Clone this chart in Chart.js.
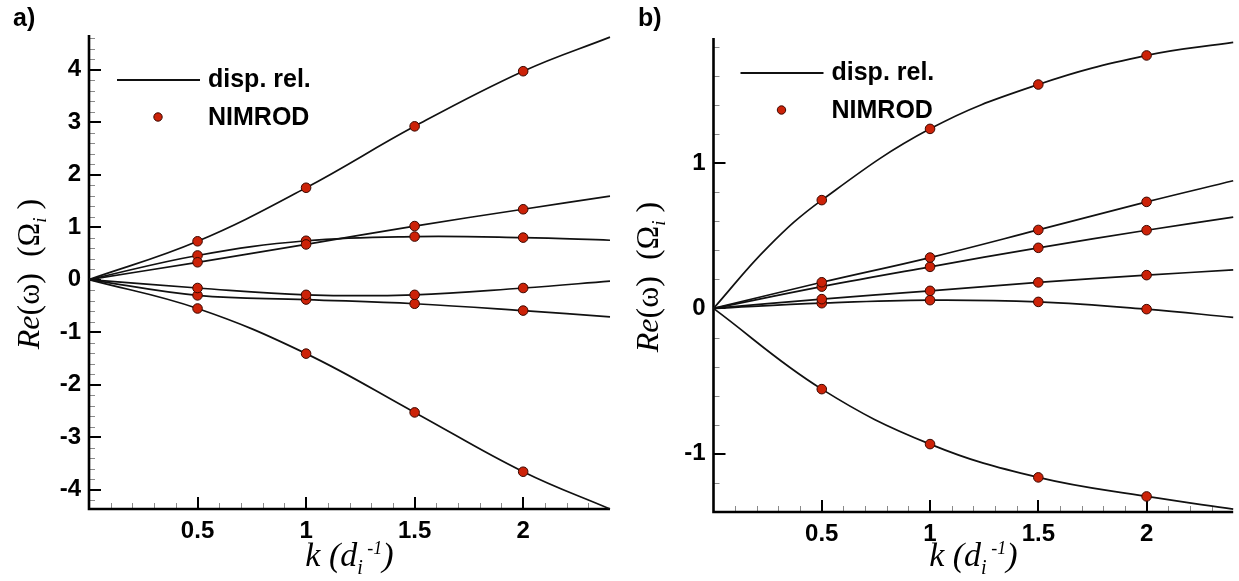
<!DOCTYPE html>
<html>
<head>
<meta charset="utf-8">
<script src="https://cdn.jsdelivr.net/npm/chart.js@4.4.1/dist/chart.umd.min.js"></script>
<style>
  body { margin: 0; background: #fff; }
  #wrap { position: relative; width: 1239px; height: 581px; overflow: hidden; }
  canvas { position: absolute; top: 0; }
</style>
</head>
<body>
<div id="wrap">
  <canvas id="panelA" width="620" height="581" style="left:0"></canvas>
  <canvas id="panelB" width="619" height="581" style="left:620px"></canvas>
</div>
<script>
// wavenumbers where the dispersion curves are sampled, and NIMROD runs
const kCurve = [0, 0.5, 1, 1.5, 2, 2.4];
const kCurveFine = [0, 0.25, 0.5, 1, 1.5, 2, 2.4];
const kRuns = [0.5, 1, 1.5, 2];

// panel a) dispersion relation branches, Re(omega) in units of Omega_i
const dispA1 = [0, 0.73, 1.75, 2.92, 3.97, 4.62];
const dispA2 = [0, 0.33, 0.67, 1.02, 1.34, 1.59];
const dispA3 = [0, 0.46, 0.74, 0.82, 0.80, 0.75];
const dispA4 = [0, -0.16, -0.29, -0.29, -0.16, -0.03];
const dispA5 = [0, -0.30, -0.38, -0.46, -0.59, -0.71];
const dispA6 = [0, -0.55, -1.41, -2.53, -3.66, -4.37];

// panel a) NIMROD results
const nimA1 = [0.73, 1.75, 2.92, 3.97];
const nimA2 = [0.33, 0.67, 1.02, 1.34];
const nimA3 = [0.46, 0.74, 0.82, 0.80];
const nimA4 = [-0.16, -0.29, -0.29, -0.16];
const nimA5 = [-0.30, -0.38, -0.46, -0.59];
const nimA6 = [-0.55, -1.41, -2.53, -3.66];

// panel b) dispersion relation branches
const dispB1 = [0, 0.42, 0.745, 1.235, 1.54, 1.74, 1.83]; // sampled on kCurveFine
const dispB2 = [0, 0.18, 0.35, 0.54, 0.733, 0.878];
const dispB3 = [0, 0.15, 0.286, 0.417, 0.538, 0.628];
const dispB4 = [0, 0.064, 0.121, 0.179, 0.229, 0.265];
const dispB5 = [0, 0.036, 0.057, 0.045, -0.005, -0.062];
const dispB6 = [0, -0.555, -0.933, -1.162, -1.293, -1.38];

// panel b) NIMROD results
const nimB1 = [0.745, 1.235, 1.54, 1.74];
const nimB2 = [0.18, 0.35, 0.54, 0.733];
const nimB3 = [0.15, 0.286, 0.417, 0.538];
const nimB4 = [0.064, 0.121, 0.179, 0.229];
const nimB5 = [0.036, 0.057, 0.045, -0.005];
const nimB6 = [-0.555, -0.933, -1.162, -1.293];

// axis tick labels
const xTicks = [0.5, 1, 1.5, 2];
const yTicksA = [-4, -3, -2, -1, 0, 1, 2, 3, 4];
const yTicksB = [-1, 0, 1];

const SANS = '"Liberation Sans", Arial, Helvetica, sans-serif';
const SERIF = '"Liberation Serif", "Times New Roman", serif';
const DOT_FILL = '#cc2208';
const DOT_EDGE = '#3a0800';

function toPoints(xs, ys) {
    return xs.map((x, i) => ({ x: x, y: ys[i] }));
}

function curveSet(xs, ys) {
    return {
        type: 'line',
        data: toPoints(xs, ys),
        borderColor: '#111',
        borderWidth: 1.7,
        pointRadius: 0,
        tension: 0.4,
        fill: false,
        clip: false,
        order: 2
    };
}

function runSet(ys) {
    return {
        type: 'scatter',
        data: toPoints(kRuns, ys),
        backgroundColor: DOT_FILL,
        borderColor: DOT_EDGE,
        borderWidth: 1,
        pointRadius: 4.8,
        clip: false,
        order: 1
    };
}

// draw a row of text pieces with their own font and baseline shift, centred on (0,0)
function drawRuns(ctx, runs) {
    let total = 0;
    runs.forEach(r => { ctx.font = r.font; r.w = ctx.measureText(r.text).width; total += r.w; });
    let x = -total / 2;
    ctx.textBaseline = 'alphabetic';
    ctx.textAlign = 'left';
    runs.forEach(r => {
        ctx.font = r.font;
        ctx.fillText(r.text, x, r.dy || 0);
        x += r.w;
    });
}

const xTitleRuns = [
    { text: 'k', font: 'italic 34px ' + SERIF },
    { text: ' (', font: 'italic 34px ' + SERIF },
    { text: 'd', font: 'italic 34px ' + SERIF },
    { text: 'i', font: 'italic 20px ' + SERIF, dy: 8 },
    { text: ' -1', font: 'italic 18px ' + SERIF, dy: -12 },
    { text: ')', font: 'italic 34px ' + SERIF }
];

const yTitleRuns = [
    { text: 'Re', font: 'italic 32px ' + SERIF },
    { text: '(ω)', font: '32px ' + SERIF },
    { text: '  (Ω', font: '32px ' + SERIF },
    { text: 'i', font: 'italic 19px ' + SERIF, dy: 7 },
    { text: ' )', font: '32px ' + SERIF }
];

// frame, inward ticks, titles, legend and panel letter
const decorPlugin = {
    id: 'decor',
    beforeDatasetsDraw(chart, args, opts) {
        const { ctx, chartArea: ca, scales: { x, y } } = chart;
        ctx.save();

        // minor ticks
        ctx.strokeStyle = '#8a8a8a';
        ctx.lineWidth = 1;
        ctx.beginPath();
        for (let i = 1; i * 0.1 < x.max - 1e-9; i++) {
            if (i % 5 === 0) continue;
            const px = Math.round(x.getPixelForValue(i * 0.1)) + 0.5;
            ctx.moveTo(px, ca.bottom);
            ctx.lineTo(px, ca.bottom - 6);
        }
        for (let i = Math.ceil(y.min / 0.2); i * 0.2 <= y.max; i++) {
            if (i % 5 === 0) continue;
            const py = Math.round(y.getPixelForValue(i * 0.2)) + 0.5;
            ctx.moveTo(ca.left, py);
            ctx.lineTo(ca.left + 6, py);
        }
        ctx.stroke();

        // major ticks
        ctx.strokeStyle = '#000';
        ctx.lineWidth = 2;
        ctx.beginPath();
        xTicks.forEach(v => {
            const px = Math.round(x.getPixelForValue(v));
            ctx.moveTo(px, ca.bottom);
            ctx.lineTo(px, ca.bottom - 12);
        });
        opts.yTicks.forEach(v => {
            const py = Math.round(y.getPixelForValue(v));
            ctx.moveTo(ca.left, py);
            ctx.lineTo(ca.left + 12, py);
        });
        ctx.stroke();

        // axis lines
        ctx.lineWidth = 2.6;
        ctx.beginPath();
        ctx.moveTo(ca.left, ca.top);
        ctx.lineTo(ca.left, ca.bottom);
        ctx.lineTo(ca.right, ca.bottom);
        ctx.stroke();
        ctx.restore();
    },
    afterDraw(chart, args, opts) {
        const { ctx, chartArea: ca } = chart;
        ctx.save();
        ctx.fillStyle = '#000';

        // panel letter
        ctx.font = 'bold 25px ' + SANS;
        ctx.textAlign = 'left';
        ctx.textBaseline = 'alphabetic';
        ctx.fillText(opts.letter, opts.letterX, 26);

        // x title
        ctx.save();
        ctx.translate((ca.left + ca.right) / 2, 566);
        drawRuns(ctx, xTitleRuns);
        ctx.restore();

        // y title
        ctx.save();
        ctx.translate(ca.left - opts.yTitleGap, (ca.top + ca.bottom) / 2 + 2);
        ctx.rotate(-Math.PI / 2);
        drawRuns(ctx, yTitleRuns);
        ctx.restore();

        // legend
        const lx = ca.left + opts.legendDx;
        const ly = ca.top + opts.legendDy;
        ctx.strokeStyle = '#111';
        ctx.lineWidth = 2;
        ctx.beginPath();
        ctx.moveTo(lx, ly);
        ctx.lineTo(lx + 83, ly);
        ctx.stroke();
        ctx.beginPath();
        ctx.arc(lx + 41, ly + 37, 4.2, 0, Math.PI * 2);
        ctx.fillStyle = DOT_FILL;
        ctx.fill();
        ctx.lineWidth = 1;
        ctx.strokeStyle = DOT_EDGE;
        ctx.stroke();
        ctx.fillStyle = '#000';
        ctx.font = 'bold 25px ' + SANS;
        ctx.textBaseline = 'middle';
        ctx.fillText('disp. rel.', lx + 91, ly);
        ctx.fillText('NIMROD', lx + 91, ly + 38);
        ctx.restore();
    }
};

function makePanel(canvasId, curves, runs, cfg) {
    const ctx = document.getElementById(canvasId).getContext('2d');
    return new Chart(ctx, {
        data: { datasets: curves.concat(runs) },
        plugins: [decorPlugin],
        options: {
            responsive: false,
            animation: false,
            devicePixelRatio: 1,
            events: [],
            layout: { padding: { left: 0, right: cfg.padRight, top: cfg.padTop, bottom: 0 } },
            plugins: {
                legend: { display: false },
                tooltip: { enabled: false },
                decor: {
                    letter: cfg.letter,
                    letterX: cfg.letterX,
                    yTicks: cfg.yTicks,
                    yTitleGap: cfg.yTitleGap,
                    legendDx: cfg.legendDx,
                    legendDy: cfg.legendDy
                }
            },
            scales: {
                x: {
                    type: 'linear',
                    min: 0,
                    max: 2.4,
                    grid: { display: false, drawTicks: false },
                    border: { display: false },
                    ticks: {
                        autoSkip: false,
                        maxRotation: 0,
                        padding: 8,
                        color: '#000',
                        font: { family: SANS, size: 24, weight: 'bold' },
                        callback: v => String(v)
                    },
                    afterBuildTicks: s => { s.ticks = xTicks.map(v => ({ value: v })); },
                    afterFit: s => { s.height = cfg.xHeight; }
                },
                y: {
                    type: 'linear',
                    min: cfg.yMin,
                    max: cfg.yMax,
                    grid: { display: false, drawTicks: false },
                    border: { display: false },
                    ticks: {
                        autoSkip: false,
                        padding: 8,
                        color: '#000',
                        font: { family: SANS, size: 24, weight: 'bold' },
                        callback: v => String(v)
                    },
                    afterBuildTicks: s => { s.ticks = cfg.yTicks.map(v => ({ value: v })); },
                    afterFit: s => { s.width = cfg.yWidth; }
                }
            }
        }
    });
}

makePanel('panelA',
    [dispA1, dispA2, dispA3, dispA4, dispA5, dispA6].map(d => curveSet(kCurve, d)),
    [nimA1, nimA2, nimA3, nimA4, nimA5, nimA6].map(runSet),
    {
        letter: 'a)', letterX: 13,
        yMin: -4.37, yMax: 4.66, yTicks: yTicksA,
        padRight: 10, padTop: 35, xHeight: 72, yWidth: 89,
        yTitleGap: 50, legendDx: 28, legendDy: 45
    });

makePanel('panelB',
    [curveSet(kCurveFine, dispB1)].concat(
        [dispB2, dispB3, dispB4, dispB5, dispB6].map(d => curveSet(kCurve, d))),
    [nimB1, nimB2, nimB3, nimB4, nimB5, nimB6].map(runSet),
    {
        letter: 'b)', letterX: 18,
        yMin: -1.4, yMax: 1.86, yTicks: yTicksB,
        padRight: 5.5, padTop: 38, xHeight: 69, yWidth: 93.5,
        yTitleGap: 56, legendDx: 27, legendDy: 35
    });
</script>
</body>
</html>
